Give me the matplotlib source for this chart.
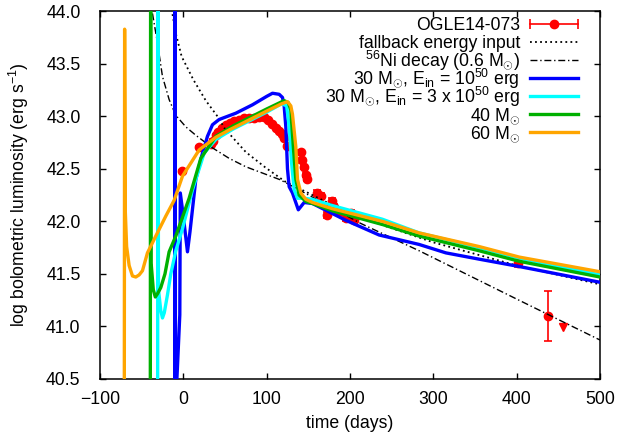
import numpy as np
import matplotlib
matplotlib.use("Agg")
import matplotlib.pyplot as plt

plt.rcParams['font.family'] = ['Liberation Sans', 'DejaVu Sans']
plt.rcParams['mathtext.fontset'] = 'custom'
plt.rcParams['mathtext.rm'] = 'Liberation Sans'
plt.rcParams['mathtext.it'] = 'Liberation Sans:italic'
FS = 12.7

# OGLE14-073 bolometric light curve
obs_t = [-1, 19, 33, 36, 39, 42, 47, 51, 56, 61, 67, 73, 79, 85, 91, 97,
         102, 107, 111, 115, 118, 121, 125, 141, 143, 145, 147, 149, 161,
         165, 173, 179, 181, 187, 195, 201, 205, 401, 437]
obs_L = [42.48, 42.71, 42.74, 42.77, 42.82, 42.85, 42.89, 42.92, 42.94,
         42.96, 42.97, 42.98, 42.98, 42.98, 42.99, 42.99, 42.97, 42.93,
         42.89, 42.86, 42.83, 42.79, 42.72, 42.66, 42.58, 42.52, 42.44,
         42.40, 42.27, 42.24, 42.06, 42.19, 42.14, 42.09, 42.03, 42.08,
         42.01, 41.60, 41.10]
obs_err = [0.01] * 23 + [0.02] * 5 + [0.03] * 10 + [0.24]
# upper limit
lim_t = [456]
lim_L = [40.99]

# fallback energy input
fb_t = [-14, -9, -2, 12, 27, 41, 50, 75, 99, 122, 150, 200, 300, 400, 500]
fb_L = [44.02, 43.79, 43.57, 43.35, 43.15, 43.0, 42.88, 42.66, 42.51,
        42.38, 42.27, 42.07, 41.80, 41.58, 41.40]

# 56Ni decay, 0.6 Msun
ni_t = [-37, -31, -25, -17, -9, 3, 15, 35, 55, 75, 95, 115, 125, 213, 283,
        400, 500]
ni_L = [43.98, 43.70, 43.38, 43.16, 43.01, 42.90, 42.82, 42.70, 42.60,
        42.52, 42.46, 42.40, 42.36, 41.98, 41.72, 41.26, 40.87]

# 30 Msun, Ein = 1e50 erg
m30a_t = [-10.2, -9.8, -9.4, -4.2, -3.6, 0, 5, 8, 15, 22, 29, 35, 43, 63,
          83, 100, 107, 115, 119, 121, 123, 125, 127, 131, 138, 145, 155,
          195, 235, 283, 315, 355, 403, 500]
m30a_L = [40.2, 44.6, 40.2, 41.11, 42.27, 42.05, 41.71, 41.9, 42.4, 42.62,
          42.81, 42.92, 42.97, 43.03, 43.11, 43.19, 43.22, 43.21, 43.18,
          43.1, 42.9, 42.5, 42.33, 42.27, 42.11, 42.18, 42.17, 42.01, 41.87,
          41.78, 41.70, 41.64, 41.57, 41.42]

# 30 Msun, Ein = 3e50 erg
m30b_t = [-30.8, -30.4, -29.8, -27, -25, -22.8, -19, -15, -9, -1, 11, 25,
          39, 60, 80, 100, 118, 124, 127, 130, 133, 137, 145, 155, 179, 239,
          283, 355, 403, 500]
m30b_L = [40.2, 44.6, 41.35, 41.15, 41.08, 41.13, 41.3, 41.5, 41.72, 41.93,
          42.3, 42.65, 42.78, 42.88, 42.96, 43.04, 43.12, 43.1, 42.9, 42.55,
          42.3, 42.22, 42.22, 42.21, 42.15, 42.02, 41.89, 41.75, 41.65, 41.49]

# 40 Msun
m40_t = [-39.6, -39.2, -38.6, -36, -33.6, -31, -27, -22, -17, -9, -1, 7, 21,
         39, 60, 80, 100, 121, 126, 129, 132, 135, 139, 147, 155, 179, 239,
         283, 355, 403, 500]
m40_L = [40.2, 44.6, 41.6, 41.35, 41.28, 41.31, 41.37, 41.5, 41.71, 41.86,
         42.04, 42.22, 42.6, 42.81, 42.91, 42.99, 43.07, 43.15, 43.13, 43.06,
         42.71, 42.4, 42.25, 42.19, 42.17, 42.1, 41.97, 41.86, 41.72, 41.62,
         41.47]

# 60 Msun
m60_t = [-70.8, -70.4, -69.6, -68, -65, -61, -57, -53, -49, -43, -33, -21,
         -11, -1, 19, 39, 55, 80, 100, 118, 125, 129, 131, 135, 137, 141, 147,
         155, 179, 239, 283, 355, 403, 500]
m60_L = [40.2, 43.83, 42.1, 41.76, 41.58, 41.48, 41.47, 41.49, 41.53, 41.7,
         41.86, 42.05, 42.2, 42.43, 42.68, 42.8, 42.87, 42.97, 43.05, 43.12,
         43.14, 43.1, 43.02, 42.71, 42.4, 42.27, 42.21, 42.18, 42.12, 42.0,
         41.89, 41.76, 41.66, 41.52]

RED = '#ff0000'
fb_style = dict(color='black', lw=1.3, ls=(0, (1, 1.8)))
ni_style = dict(color='black', lw=1.0, ls=(0, (5, 2, 1, 2)))
models = [
    (m30a_t, m30a_L, '#0000ff',
     r'30 M$_{\odot}$, E$_{\rm in}$ = 10$^{50}$ erg'),
    (m30b_t, m30b_L, '#00ffff',
     r'30 M$_{\odot}$, E$_{\rm in}$ = 3 x 10$^{50}$ erg'),
    (m40_t, m40_L, '#00b000', r'40 M$_{\odot}$'),
    (m60_t, m60_L, '#ffa500', r'60 M$_{\odot}$'),
]

fig = plt.figure(figsize=(6.17, 4.36), dpi=100)
ax = fig.add_axes([0.162, 0.131, 0.8105, 0.843])

ax.errorbar(obs_t, obs_L, yerr=obs_err, fmt='o', color=RED, ms=6,
            elinewidth=1.2, capsize=3, capthick=1.2, zorder=2)
ax.plot(lim_t, lim_L, 'v', color=RED, ms=6, zorder=2)
ax.plot(fb_t, fb_L, zorder=3, **fb_style)
ax.plot(ni_t, ni_L, zorder=3, **ni_style)
for z, (t, L, c, lab) in enumerate(models):
    ax.plot(t, L, color=c, lw=2.4, zorder=4 + z)

ax.set_xlim(-100, 500)
ax.set_ylim(40.5, 44.0)
ax.set_xticks(np.arange(-100, 501, 100))
ax.set_yticks(np.arange(40.5, 44.01, 0.5))
ax.yaxis.set_major_formatter(matplotlib.ticker.FormatStrFormatter('%.1f'))
ax.tick_params(direction='in', length=4, width=1, top=True, right=True,
               labelsize=FS)
ax.tick_params(axis='x', pad=9)
ax.tick_params(axis='y', pad=14)
for s in ax.spines.values():
    s.set_linewidth(1.1)

ax.set_xlabel('time (days)', fontsize=FS)
ax.set_ylabel(r'log bolometric luminosity (erg s$^{-1}$)', fontsize=FS)
ax.xaxis.set_label_coords(0.5, -0.098)
ax.yaxis.set_label_coords(-0.138, 0.5)

# gnuplot-style key: right-aligned text, sample on the right, even rows
key_rows = [('OGLE14-073', None),
            ('fallback energy input', fb_style),
            (r'$^{56}$Ni decay (0.6 M$_{\odot}$)', ni_style)]
key_rows += [(lab, dict(color=c, lw=2.4)) for t, L, c, lab in models]
ktx, kx0, kx1 = 0.84, 0.86, 0.956
ky0, kdy, kbase = 0.9646, 0.049, 0.0155
for i, (lab, style) in enumerate(key_rows):
    yc = ky0 - i * kdy
    ax.text(ktx, yc - kbase, lab, transform=ax.transAxes, ha='right',
            va='baseline', fontsize=FS, zorder=10)
    if style is None:
        ax.plot([kx0, kx1], [yc, yc], color=RED, lw=1.2, marker='|', ms=7,
                mew=1.2, transform=ax.transAxes, clip_on=False, zorder=10)
        ax.plot([(kx0 + kx1) / 2], [yc], 'o', color=RED, ms=6,
                transform=ax.transAxes, clip_on=False, zorder=10)
    else:
        ax.plot([kx0, kx1], [yc, yc], transform=ax.transAxes, clip_on=False,
                zorder=10, **style)

fig.savefig('out.png', dpi=100)
